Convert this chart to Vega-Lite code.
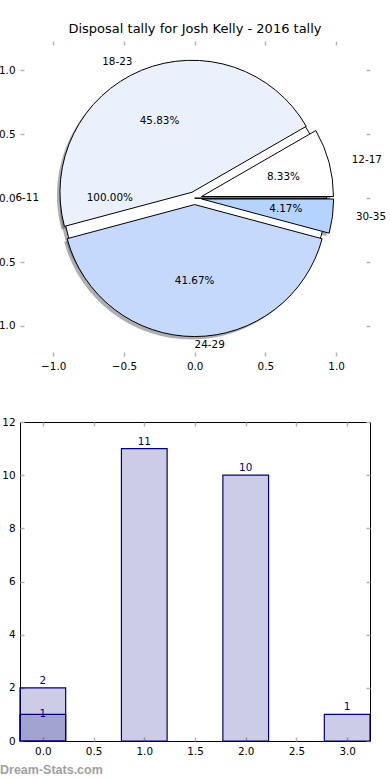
{
  "$schema": "https://vega.github.io/schema/vega-lite/v6.json",
  "padding": {"left": -11, "top": 23, "right": 0, "bottom": 0},
  "background": "white",
  "config": {
    "font": "DejaVu Sans",
    "view": {"stroke": null},
    "axis": {
      "labelFont": "DejaVu Sans",
      "labelFontSize": 10.4,
      "labelColor": "black",
      "domain": false,
      "grid": false,
      "tickColor": "#b4b4b4",
      "tickWidth": 1.5,
      "tickSize": -4,
      "labelPadding": 9,
      "title": null
    }
  },
  "datasets": {
    "pie": [
      {"label": "6-11", "pct": 100, "explode": 0, "ring": "full"},
      {"label": "12-17", "pct": 8.33, "explode": 0.05, "ring": "slices"},
      {"label": "18-23", "pct": 45.83, "explode": 0.05, "ring": "slices"},
      {"label": "24-29", "pct": 41.67, "explode": 0.05, "ring": "slices"},
      {"label": "30-35", "pct": 4.17, "explode": 0.05, "ring": "slices"}
    ],
    "bars": [
      {"bin": 0, "count": 2},
      {"bin": 1, "count": 11},
      {"bin": 2, "count": 10},
      {"bin": 3, "count": 1}
    ],
    "overlay": [
      {"bin": 0, "count": 1}
    ]
  },
  "spacing": 66,
  "bounds": "flush",
  "vconcat": [
    {
      "width": 350,
      "height": 315,
      "title": {"text": "Disposal tally for Josh Kelly - 2016 tally", "fontSize": 13, "fontWeight": "normal", "font": "DejaVu Sans", "color": "black", "offset": 4},
      "data": {"name": "pie"},
      "transform": [
        {"window": [{"op": "sum", "field": "pct", "as": "end"}], "groupby": ["ring"], "frame": [null, 0]},
        {"calculate": "datum.end - datum.pct", "as": "start"},
        {"calculate": "(datum.start + datum.end) / 2 * 2 * PI / 100", "as": "ang"},
        {"calculate": "datum.explode * cos(datum.ang)", "as": "cx"},
        {"calculate": "datum.explode * sin(datum.ang)", "as": "cy"},
        {"calculate": "(1.1 + datum.explode) * cos(datum.ang)", "as": "lx"},
        {"calculate": "(1.1 + datum.explode) * sin(datum.ang)", "as": "ly"},
        {"calculate": "(0.6 + datum.explode) * cos(datum.ang)", "as": "px"},
        {"calculate": "(0.6 + datum.explode) * sin(datum.ang)", "as": "py"},
        {"calculate": "format(datum.pct, '.2f') + '%'", "as": "pctLabel"}
      ],
      "resolve": {"axis": {"x": "independent", "y": "independent"}},
      "layer": [
        {
          "mark": {"type": "arc", "radius": 132, "fill": "#4d4d4d", "opacity": 0.45, "xOffset": -3, "yOffset": 3, "strokeWidth": 0},
          "encoding": {
            "x": {"field": "cx", "type": "quantitative", "scale": {"domain": [-1.235, 1.24], "nice": false, "zero": false, "padding": 0}, "axis": null},
            "y": {"field": "cy", "type": "quantitative", "scale": {"domain": [-1.235, 1.23], "nice": false, "zero": false, "padding": 0}, "axis": null},
            "theta": {"field": "start", "type": "quantitative", "stack": null, "scale": {"domain": [0, 100], "range": [1.5707963, -4.712389]}},
            "theta2": {"field": "end"}
          }
        },
        {
          "mark": {"type": "arc", "radius": 132, "stroke": "black", "strokeWidth": 1, "opacity": 1},
          "encoding": {
            "x": {"field": "cx", "type": "quantitative", "axis": {"orient": "bottom", "values": [-1, -0.5, 0, 0.5, 1], "format": ".1f"}},
            "y": {"field": "cy", "type": "quantitative", "axis": {"orient": "left", "values": [-1, -0.5, 0, 0.5, 1], "format": ".1f"}},
            "theta": {"field": "start", "type": "quantitative", "stack": null},
            "theta2": {"field": "end"},
            "color": {"field": "label", "type": "nominal", "legend": null, "scale": {"domain": ["6-11", "12-17", "18-23", "24-29", "30-35"], "range": ["#ffffff", "#ffffff", "#eaf1fd", "#c5d9fd", "#b4d3fe"]}}
          }
        },
        {
          "transform": [{"filter": "datum.lx < -0.001"}],
          "mark": {"type": "text", "align": "right", "baseline": "middle", "fontSize": 10.4, "color": "black"},
          "encoding": {
            "x": {"field": "lx", "type": "quantitative", "axis": null},
            "y": {"field": "ly", "type": "quantitative", "axis": null},
            "text": {"field": "label"}
          }
        },
        {
          "transform": [{"filter": "datum.lx >= -0.001"}],
          "mark": {"type": "text", "align": "left", "baseline": "middle", "fontSize": 10.4, "color": "black"},
          "encoding": {
            "x": {"field": "lx", "type": "quantitative", "axis": null},
            "y": {"field": "ly", "type": "quantitative", "axis": null},
            "text": {"field": "label"}
          }
        },
        {
          "mark": {"type": "text", "align": "center", "baseline": "middle", "fontSize": 10.4, "color": "black"},
          "encoding": {
            "x": {"field": "px", "type": "quantitative", "axis": null},
            "y": {"field": "py", "type": "quantitative", "axis": null},
            "text": {"field": "pctLabel"}
          }
        },
        {
          "mark": {"type": "point", "opacity": 0},
          "encoding": {
            "x": {"field": "cx", "type": "quantitative", "axis": {"orient": "top", "values": [-1, -0.5, 0, 0.5, 1], "labels": false}},
            "y": {"field": "cy", "type": "quantitative", "axis": {"orient": "right", "values": [-1, -0.5, 0, 0.5, 1], "labels": false}}
          }
        }
      ]
    },
    {
      "width": 350,
      "height": 319,
      "title": {"text": "Dream-Stats.com", "orient": "bottom", "anchor": "start", "frame": "group", "fontSize": 12.5, "font": "Liberation Sans", "fontWeight": "bold", "color": "#a0a0a0", "dx": -20, "offset": 8},
      "view": {"stroke": "black", "strokeWidth": 1},
      "resolve": {"axis": {"x": "independent", "y": "independent"}},
      "layer": [
        {
          "data": {"name": "bars"},
          "mark": {"type": "bar", "width": 45.7, "fill": "#000080", "fillOpacity": 0.2, "stroke": "#000080", "strokeWidth": 1.2},
          "encoding": {
            "x": {"field": "bin", "type": "quantitative", "scale": {"domain": [-0.225, 3.225], "nice": false, "zero": false, "padding": 0}, "axis": {"orient": "bottom", "values": [0, 0.5, 1, 1.5, 2, 2.5, 3], "format": ".1f"}},
            "y": {"field": "count", "type": "quantitative", "scale": {"domain": [0, 12], "nice": false, "padding": 0}, "axis": {"orient": "left", "values": [0, 2, 4, 6, 8, 10, 12], "format": "d"}}
          }
        },
        {
          "data": {"name": "overlay"},
          "mark": {"type": "bar", "width": 45.7, "fill": "#000080", "fillOpacity": 0.2, "stroke": "#000080", "strokeWidth": 1.2},
          "encoding": {
            "x": {"field": "bin", "type": "quantitative", "axis": null},
            "y": {"field": "count", "type": "quantitative", "axis": null}
          }
        },
        {
          "data": {"name": "bars"},
          "mark": {"type": "text", "align": "center", "baseline": "bottom", "dy": -2, "fontSize": 10.4, "color": "#000080"},
          "encoding": {
            "x": {"field": "bin", "type": "quantitative", "axis": null},
            "y": {"field": "count", "type": "quantitative", "axis": null},
            "text": {"field": "count"}
          }
        },
        {
          "data": {"name": "overlay"},
          "mark": {"type": "text", "align": "center", "baseline": "middle", "fontSize": 10.4, "color": "#000080"},
          "encoding": {
            "x": {"field": "bin", "type": "quantitative", "axis": null},
            "y": {"field": "count", "type": "quantitative", "axis": null},
            "text": {"field": "count"}
          }
        },
        {
          "data": {"name": "bars"},
          "mark": {"type": "point", "opacity": 0},
          "encoding": {
            "x": {"field": "bin", "type": "quantitative", "axis": {"orient": "top", "values": [0, 0.5, 1, 1.5, 2, 2.5, 3], "labels": false}},
            "y": {"field": "count", "type": "quantitative", "axis": {"orient": "right", "values": [0, 2, 4, 6, 8, 10, 12], "labels": false}}
          }
        }
      ]
    }
  ]
}
